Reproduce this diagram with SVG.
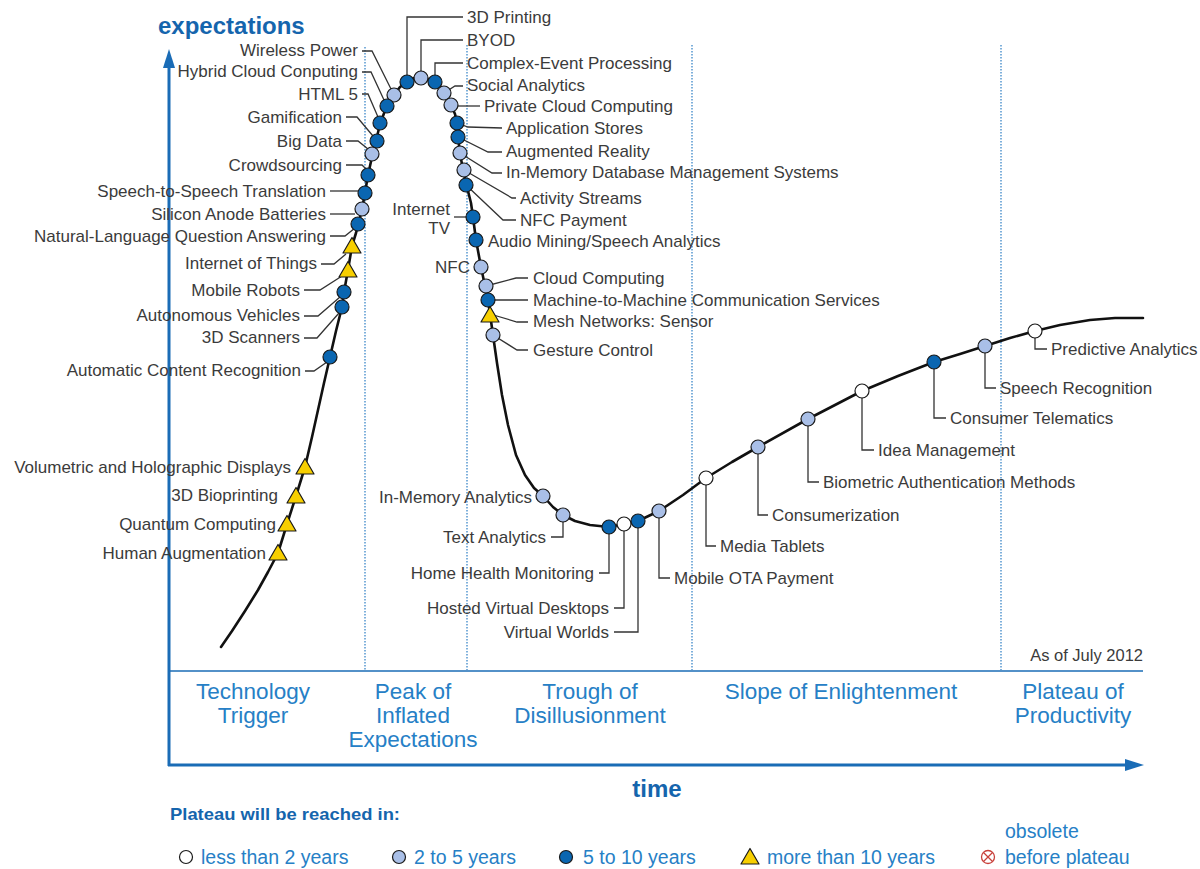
<svg xmlns="http://www.w3.org/2000/svg" xmlns:xlink="http://www.w3.org/1999/xlink" width="1200" height="869" viewBox="0 0 1200 869">
  <style>
    text { font-family: "Liberation Sans", Arial, sans-serif; }
    .lbl { font-size: 17px; fill: #3b3b3b; }
    .e { text-anchor: end; }
    .phase { font-size: 22.5px; fill: #2680c6; text-anchor: middle; }
    .axis-title { font-size: 24px; font-weight: bold; fill: #1565ad; }
    .leg { font-size: 19.5px; fill: #2680c6; }
    .lead { fill: none; stroke: #333; stroke-width: 1.3; stroke-linejoin: miter; }
    .sep { stroke: #2a7cc4; stroke-width: 1.2; stroke-dasharray: 1.5 1.5; }
    .n { stroke: #1a1a1a; stroke-width: 1.2; }
    .w { fill: #ffffff; }
    .lb { fill: #a9bfe7; }
    .db { fill: #0a66b1; }
    .y { fill: #f7cf00; stroke: #1a1a1a; stroke-width: 1.2; stroke-linejoin: round; }
  </style>
  <defs>
    <path id="tri" d="M0,-8.5 L9,7 L-9,7 Z"/>
  </defs>

  <rect width="1200" height="869" fill="#ffffff"/>

  <!-- phase separators -->
  <g id="separators">
    <line class="sep" x1="365" y1="47" x2="365" y2="670"/>
    <line class="sep" x1="467" y1="45" x2="467" y2="670"/>
    <line class="sep" x1="692" y1="45" x2="692" y2="670"/>
    <line class="sep" x1="1001" y1="45" x2="1001" y2="670"/>
  </g>

  <!-- axes -->
  <g id="axes">
    <line x1="169" y1="766" x2="169" y2="64" stroke="#1a6cb6" stroke-width="3"/>
    <path d="M169,49 L175,68 L163,68 Z" fill="#1a6cb6"/>
    <line x1="168" y1="765" x2="1128" y2="765" stroke="#1a6cb6" stroke-width="3"/>
    <path d="M1144,765 L1125,759 L1125,771 Z" fill="#1a6cb6"/>
    <line x1="169" y1="671" x2="1143" y2="671" stroke="#1a6cb6" stroke-width="1.5"/>
    <text class="axis-title" x="158" y="34">expectations</text>
    <text class="axis-title" x="657" y="797" text-anchor="middle">time</text>
    <text x="1143" y="661" text-anchor="end" font-size="16.5" fill="#3b3b3b">As of July 2012</text>
  </g>

  <!-- phase names -->
  <g id="phases">
    <text class="phase" x="253" y="699">Technology</text>
    <text class="phase" x="253" y="723">Trigger</text>
    <text class="phase" x="413" y="699">Peak of</text>
    <text class="phase" x="413" y="723">Inflated</text>
    <text class="phase" x="413" y="747">Expectations</text>
    <text class="phase" x="590" y="699">Trough of</text>
    <text class="phase" x="590" y="723">Disillusionment</text>
    <text class="phase" x="841" y="699">Slope of Enlightenment</text>
    <text class="phase" x="1073" y="699">Plateau of</text>
    <text class="phase" x="1073" y="723">Productivity</text>
  </g>

  <!-- hype curve -->
  <polyline id="curve" fill="none" stroke="#111" stroke-width="2.6" stroke-linejoin="round" stroke-linecap="round"
    points="221,647 232,631 245,611 258,590 268,572 278,553 287,524 296,496 305,467 312,437 318,410 324,383 330,357 336,331 342,307 344,292 348,270 352,246 356,233 359,222 362,209 365,193 368,175 372,157 376,141 380,124 386,108 394,95 400,87 407,82 414,78 421,78 428,79 435,82 440,87 444,93 451,105 455,114 457,123 458,137 460,153 463,170 467,187 471,203 473,217 476,240 481,267 485,286 488,300 490,314 493,335 497,363 502,395 508,425 516,455 525,475 534,488 543,496 553,507 563,515 575,521 590,525 609,527 624,524 638,521 659,511 683,495 706,478 732,462 758,447 808,419 835,405 862,391 898,376 934,362 960,354 985,346 1010,338 1035,331 1060,325 1090,320 1115,318 1143,318"/>

  <!-- leader lines -->
  <g id="connectors">
    <polyline class="lead" points="362,51 372,51 391,89"/>
    <polyline class="lead" points="362,72 371,72 384,100"/>
    <polyline class="lead" points="362,94 368,94 378,117"/>
    <polyline class="lead" points="346,117 357,117 373,136"/>
    <polyline class="lead" points="346,141 358,141 368,149"/>
    <polyline class="lead" points="346,165 362,165 367,170"/>
    <polyline class="lead" points="330,191 360,191"/>
    <polyline class="lead" points="330,214 355,214"/>
    <polyline class="lead" points="330,236 345,236 355,228"/>
    <polyline class="lead" points="321,264 334,264 346,254"/>
    <polyline class="lead" points="304,290 320,290 342,276"/>
    <polyline class="lead" points="304,316 318,316 340,297"/>
    <polyline class="lead" points="304,338 317,338 339,313"/>
    <polyline class="lead" points="305,371 314,371 327,362"/>
    <polyline class="lead" points="407,82 407,17 463,17"/>
    <polyline class="lead" points="421,78 421,40 463,40"/>
    <polyline class="lead" points="435,82 435,63 463,63"/>
    <polyline class="lead" points="444,93 455,86 463,86"/>
    <polyline class="lead" points="451,106 480,106"/>
    <polyline class="lead" points="457,123 468,127 502,128"/>
    <polyline class="lead" points="458,137 488,152 502,152"/>
    <polyline class="lead" points="460,153 492,173 502,173"/>
    <polyline class="lead" points="464,170 512,198 516,198"/>
    <polyline class="lead" points="466,185 503,220 516,220"/>
    <polyline class="lead" points="454,217 473,217"/>
    <polyline class="lead" points="486,286 516,278 528,278"/>
    <polyline class="lead" points="488,300 528,300"/>
    <polyline class="lead" points="490,314 517,322 528,322"/>
    <polyline class="lead" points="493,335 517,350 528,350"/>
    <polyline class="lead" points="563,515 563,537 551,537"/>
    <polyline class="lead" points="609,527 609,573 599,573"/>
    <polyline class="lead" points="624,524 624,608 614,608"/>
    <polyline class="lead" points="638,521 638,632 614,632"/>
    <polyline class="lead" points="659,511 659,578 670,578"/>
    <polyline class="lead" points="706,478 706,546 716,546"/>
    <polyline class="lead" points="758,447 758,515 768,515"/>
    <polyline class="lead" points="808,419 808,482 819,482"/>
    <polyline class="lead" points="862,391 862,450 874,450"/>
    <polyline class="lead" points="934,362 934,418 946,418"/>
    <polyline class="lead" points="985,346 985,388 996,388"/>
    <polyline class="lead" points="1035,331 1035,349 1047,349"/>
  </g>

  <!-- technologies on the rising slope -->
  <g id="wireless-power"><circle class="n lb" cx="394" cy="95" r="7"/><text class="lbl e" x="358" y="56">Wireless Power</text></g>
  <g id="hybrid-cloud"><circle class="n db" cx="387" cy="106" r="7"/><text class="lbl e" x="358" y="77">Hybrid Cloud Conputing</text></g>
  <g id="html5"><circle class="n db" cx="380" cy="123" r="7"/><text class="lbl e" x="358" y="100">HTML 5</text></g>
  <g id="gamification"><circle class="n db" cx="377" cy="141" r="7"/><text class="lbl e" x="342" y="123">Gamification</text></g>
  <g id="big-data"><circle class="n lb" cx="372" cy="154" r="7"/><text class="lbl e" x="342" y="147">Big Data</text></g>
  <g id="crowdsourcing"><circle class="n db" cx="368" cy="175" r="7"/><text class="lbl e" x="342" y="171">Crowdsourcing</text></g>
  <g id="speech-translation"><circle class="n db" cx="365" cy="193" r="7"/><text class="lbl e" x="326" y="197">Speech-to-Speech Translation</text></g>
  <g id="silicon-anode"><circle class="n lb" cx="362" cy="209" r="7"/><text class="lbl e" x="326" y="220">Silicon Anode Batteries</text></g>
  <g id="nl-question"><circle class="n db" cx="358" cy="224" r="7"/><text class="lbl e" x="326" y="242">Natural-Language Question Answering</text></g>
  <g id="internet-of-things"><use href="#tri" class="y" x="352" y="246"/><text class="lbl e" x="317" y="269">Internet of Things</text></g>
  <g id="mobile-robots"><use href="#tri" class="y" x="348" y="270"/><text class="lbl e" x="300" y="296">Mobile Robots</text></g>
  <g id="autonomous-vehicles"><circle class="n db" cx="344" cy="292" r="7"/><text class="lbl e" x="300" y="321">Autonomous Vehicles</text></g>
  <g id="scanners-3d"><circle class="n db" cx="342" cy="307" r="7"/><text class="lbl e" x="300" y="343">3D Scanners</text></g>
  <g id="content-recognition"><circle class="n db" cx="330" cy="357" r="7"/><text class="lbl e" x="301" y="376">Automatic Content Recognition</text></g>
  <g id="volumetric-displays"><use href="#tri" class="y" x="305" y="467"/><text class="lbl e" x="291" y="473">Volumetric and Holographic Displays</text></g>
  <g id="bioprinting"><use href="#tri" class="y" x="296" y="496"/><text class="lbl e" x="278" y="501">3D Bioprinting</text></g>
  <g id="quantum-computing"><use href="#tri" class="y" x="287" y="524"/><text class="lbl e" x="276" y="530">Quantum Computing</text></g>
  <g id="human-augmentation"><use href="#tri" class="y" x="278" y="553"/><text class="lbl e" x="266" y="559">Human Augmentation</text></g>

  <!-- technologies at the peak and sliding down -->
  <g id="printing-3d"><circle class="n db" cx="407" cy="82" r="7"/><text class="lbl" x="467" y="23">3D Printing</text></g>
  <g id="byod"><circle class="n lb" cx="421" cy="78" r="7"/><text class="lbl" x="467" y="46">BYOD</text></g>
  <g id="complex-event"><circle class="n db" cx="435" cy="82" r="7"/><text class="lbl" x="467" y="69">Complex-Event Processing</text></g>
  <g id="social-analytics"><circle class="n lb" cx="444" cy="93" r="7"/><text class="lbl" x="467" y="91">Social Analytics</text></g>
  <g id="private-cloud"><circle class="n lb" cx="451" cy="105" r="7"/><text class="lbl" x="484" y="112">Private Cloud Computing</text></g>
  <g id="app-stores"><circle class="n db" cx="457" cy="123" r="7"/><text class="lbl" x="506" y="134">Application Stores</text></g>
  <g id="augmented-reality"><circle class="n db" cx="458" cy="137" r="7"/><text class="lbl" x="506" y="157">Augmented Reality</text></g>
  <g id="in-memory-db"><circle class="n lb" cx="460" cy="153" r="7"/><text class="lbl" x="506" y="178">In-Memory Database Management Systems</text></g>
  <g id="activity-streams"><circle class="n lb" cx="464" cy="170" r="7"/><text class="lbl" x="520" y="204">Activity Streams</text></g>
  <g id="nfc-payment"><circle class="n db" cx="466" cy="185" r="7"/><text class="lbl" x="520" y="226">NFC Payment</text></g>
  <g id="internet-tv"><circle class="n db" cx="473" cy="217" r="7"/><text class="lbl e" x="450" y="215">Internet</text><text class="lbl e" x="450" y="234">TV</text></g>
  <g id="audio-mining"><circle class="n db" cx="476" cy="240" r="7"/><text class="lbl" x="488" y="247">Audio Mining/Speech Analytics</text></g>
  <g id="nfc"><circle class="n lb" cx="481" cy="267" r="7"/><text class="lbl e" x="470" y="273">NFC</text></g>
  <g id="cloud-computing"><circle class="n lb" cx="486" cy="286" r="7"/><text class="lbl" x="533" y="284">Cloud Computing</text></g>
  <g id="m2m"><circle class="n db" cx="488" cy="300" r="7"/><text class="lbl" x="533" y="306">Machine-to-Machine Communication Services</text></g>
  <g id="mesh-networks"><use href="#tri" class="y" x="490" y="315"/><text class="lbl" x="533" y="327">Mesh Networks: Sensor</text></g>
  <g id="gesture-control"><circle class="n lb" cx="493" cy="335" r="7"/><text class="lbl" x="533" y="356">Gesture Control</text></g>

  <!-- technologies in the trough -->
  <g id="in-memory-analytics"><circle class="n lb" cx="543" cy="496" r="7"/><text class="lbl e" x="532" y="503">In-Memory Analytics</text></g>
  <g id="text-analytics"><circle class="n lb" cx="563" cy="515" r="7"/><text class="lbl e" x="546" y="543">Text Analytics</text></g>
  <g id="home-health"><circle class="n db" cx="609" cy="527" r="7"/><text class="lbl e" x="594" y="579">Home Health Monitoring</text></g>
  <g id="hosted-desktops"><circle class="n w" cx="624" cy="524" r="7"/><text class="lbl e" x="609" y="614">Hosted Virtual Desktops</text></g>
  <g id="virtual-worlds"><circle class="n db" cx="638" cy="521" r="7"/><text class="lbl e" x="609" y="638">Virtual Worlds</text></g>
  <g id="mobile-ota"><circle class="n lb" cx="659" cy="511" r="7"/><text class="lbl" x="674" y="584">Mobile OTA Payment</text></g>

  <!-- technologies on the slope and plateau -->
  <g id="media-tablets"><circle class="n w" cx="706" cy="478" r="7"/><text class="lbl" x="720" y="552">Media Tablets</text></g>
  <g id="consumerization"><circle class="n lb" cx="758" cy="447" r="7"/><text class="lbl" x="772" y="521">Consumerization</text></g>
  <g id="biometric-auth"><circle class="n lb" cx="808" cy="419" r="7"/><text class="lbl" x="823" y="488">Biometric Authentication Methods</text></g>
  <g id="idea-management"><circle class="n w" cx="862" cy="391" r="7"/><text class="lbl" x="878" y="456">Idea Management</text></g>
  <g id="consumer-telematics"><circle class="n db" cx="934" cy="362" r="7"/><text class="lbl" x="950" y="424">Consumer Telematics</text></g>
  <g id="speech-recognition"><circle class="n lb" cx="985" cy="346" r="7"/><text class="lbl" x="1000" y="394">Speech Recognition</text></g>
  <g id="predictive-analytics"><circle class="n w" cx="1035" cy="331" r="7"/><text class="lbl" x="1051" y="355">Predictive Analytics</text></g>

  <!-- legend -->
  <g id="legend">
    <text x="170" y="820" font-size="17" font-weight="bold" fill="#1565ad" textLength="230" lengthAdjust="spacingAndGlyphs">Plateau will be reached in:</text>
    <circle class="n w" cx="186" cy="857" r="6.5"/>
    <text class="leg" x="201" y="864">less than 2 years</text>
    <circle class="n lb" cx="399" cy="857" r="6.5"/>
    <text class="leg" x="414" y="864">2 to 5 years</text>
    <circle class="n db" cx="566" cy="857" r="6.5"/>
    <text class="leg" x="583" y="864">5 to 10 years</text>
    <use href="#tri" class="y" x="750" y="857"/>
    <text class="leg" x="767" y="864">more than 10 years</text>
    <g stroke="#c8413b" stroke-width="1.3" fill="none">
      <circle cx="988" cy="857" r="6.5"/>
      <line x1="983.5" y1="852.5" x2="992.5" y2="861.5"/>
      <line x1="992.5" y1="852.5" x2="983.5" y2="861.5"/>
    </g>
    <text class="leg" x="1005" y="838">obsolete</text>
    <text class="leg" x="1005" y="864">before plateau</text>
  </g>
</svg>
